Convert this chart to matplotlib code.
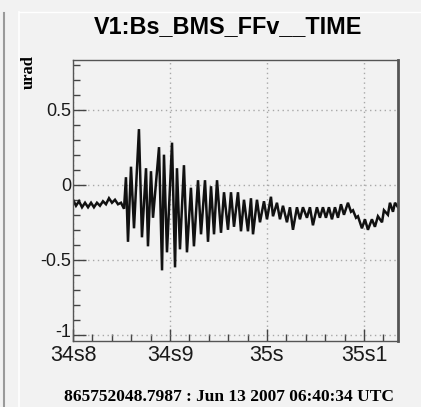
import numpy as np
import matplotlib as mpl
mpl.use('Agg')
import matplotlib.pyplot as plt
import matplotlib.transforms as mtransforms
from matplotlib.ticker import MultipleLocator, FuncFormatter
from matplotlib.lines import Line2D

#----- DATA -----
title = 'V1:Bs_BMS_FFv__TIME'
ylabel = 'urad'
footer = '865752048.7987 : Jun 13 2007 06:40:34 UTC'

# time (s within minute) and value (urad) of the trace turning points
t = [34.8000, 34.8031, 34.8062, 34.8093, 34.8124, 34.8155, 34.8186, 34.8216,
     34.8247, 34.8278, 34.8309, 34.8340, 34.8371, 34.8402, 34.8433, 34.8464,
     34.8495, 34.8526, 34.8546, 34.8567, 34.8598, 34.8629, 34.8680, 34.8711,
     34.8753, 34.8773, 34.8804, 34.8825, 34.8887, 34.8918, 34.8938, 34.8969,
     34.9021, 34.9052, 34.9072, 34.9103, 34.9144, 34.9175, 34.9216, 34.9247,
     34.9289, 34.9320, 34.9361, 34.9392, 34.9423, 34.9454, 34.9485, 34.9526,
     34.9557, 34.9598, 34.9629, 34.9660, 34.9701, 34.9732, 34.9763, 34.9804,
     34.9835, 34.9856, 34.9897, 34.9928, 34.9969, 35.0000, 35.0041, 35.0062,
     35.0103, 35.0134, 35.0165, 35.0206, 35.0237, 35.0268, 35.0309, 35.0340,
     35.0371, 35.0412, 35.0443, 35.0474, 35.0515, 35.0546, 35.0577, 35.0608,
     35.0639, 35.0670, 35.0701, 35.0732, 35.0763, 35.0794, 35.0835, 35.0866,
     35.0887, 35.0918, 35.0938, 35.0979, 35.1010, 35.1041, 35.1082, 35.1113,
     35.1144, 35.1186, 35.1206, 35.1247, 35.1268, 35.1299, 35.1320, 35.1351]
v = [-0.10, -0.14, -0.11, -0.15, -0.12, -0.15, -0.12, -0.15,
     -0.12, -0.14, -0.11, -0.13, -0.09, -0.12, -0.10, -0.13,
     -0.12, -0.16, 0.05, -0.38, 0.12, -0.29, 0.37, -0.35,
     0.11, -0.41, 0.09, -0.22, 0.25, -0.57, 0.20, -0.45,
     0.28, -0.55, 0.11, -0.43, 0.13, -0.45, -0.02, -0.41,
     0.03, -0.33, 0.03, -0.38, -0.01, -0.33, 0.03, -0.32,
     -0.05, -0.30, -0.05, -0.28, -0.05, -0.31, -0.10, -0.31,
     -0.09, -0.33, -0.10, -0.25, -0.11, -0.23, -0.08, -0.21,
     -0.12, -0.23, -0.14, -0.25, -0.15, -0.30, -0.15, -0.23,
     -0.15, -0.22, -0.15, -0.27, -0.15, -0.22, -0.15, -0.22,
     -0.15, -0.23, -0.15, -0.22, -0.13, -0.20, -0.12, -0.18,
     -0.17, -0.22, -0.21, -0.29, -0.23, -0.30, -0.23, -0.28,
     -0.21, -0.25, -0.17, -0.20, -0.12, -0.18, -0.12, -0.15]

xmin, xmax = 34.8, 35.1351
ymin, ymax = -1.04, 0.83

#------ Figure ----------
bg = '#f2f2f2'
fig = plt.figure(figsize=[4.21, 4.07], dpi=100, facecolor=bg)

# window decorations on the left
fig.add_artist(Line2D([4/421, 4/421], [0, 1-13/407], color='#9a9a9a', lw=1.5))
fig.add_artist(Line2D([19/421, 19/421], [0, 1-12/407], color='white', lw=1.2))
fig.add_artist(Line2D([19/421, 1], [1-12/407, 1-12/407], color='white', lw=1.0))

ax = fig.add_axes([73/421, 1-341/407, 325/421, 281/407])
ax.set_facecolor(bg)
ax.plot(t, v, color='#111111', lw=1.8, solid_joinstyle='miter')

ax.set_xlim(xmin, xmax)
ax.set_ylim(ymin, ymax)

ax.xaxis.set_major_locator(MultipleLocator(0.1))
ax.xaxis.set_minor_locator(MultipleLocator(0.02))
ax.yaxis.set_major_locator(MultipleLocator(0.5))
ax.yaxis.set_minor_locator(MultipleLocator(0.1))


def xfmt(x, pos):
    s = int(np.floor(x + 1e-6))
    d = int(round((x - s) * 10)) % 10
    if d == 0:
        return '%ds' % s
    return '%ds%d' % (s, d)


def yfmt(y, pos):
    if abs(y) < 1e-9:
        return '0'
    return ('%g' % y)


ax.xaxis.set_major_formatter(FuncFormatter(xfmt))
ax.yaxis.set_major_formatter(FuncFormatter(yfmt))

ax.tick_params(which='both', direction='in', color='#444444', width=1.0,
               top=False, right=False)
ax.tick_params(which='major', length=9)
ax.tick_params(which='minor', length=5)
ax.tick_params(axis='x', labelsize=15.5, pad=3)
ax.tick_params(axis='y', labelsize=13, pad=1)

fig.canvas.draw()
for lab in ax.get_xticklabels() + ax.get_yticklabels():
    lab.set_family('Liberation Sans')
    lab.set_color('#1a1a1a')
# the lowest y label sits a little above its tick, as in the original
for lab in ax.get_yticklabels():
    if lab.get_text() == '-1':
        lab.set_transform(lab.get_transform() +
                          mtransforms.ScaledTranslation(0, 4/100, fig.dpi_scale_trans))

ax.grid(True, which='major', color='#a8a8a8', linestyle=(0, (1, 2.5)), lw=1.0)
for s in ax.spines.values():
    s.set_color('#555555')
    s.set_linewidth(1.0)
ax.spines['right'].set_linewidth(2.0)

fig.text(228/421, 1-27/407, title, ha='center', va='center',
         family='Liberation Sans', weight='bold', fontsize=16.8)
fig.text(29/421, 1-72/407, ylabel, ha='center', va='center', rotation=90,
         family='Liberation Serif', weight='bold', fontsize=12)
fig.text(229/421, 1-397/407, footer, ha='center', va='center',
         family='Liberation Serif', weight='bold', fontsize=12.5)

fig.savefig('out.png', dpi=100, facecolor=bg)
plt.close(fig)
